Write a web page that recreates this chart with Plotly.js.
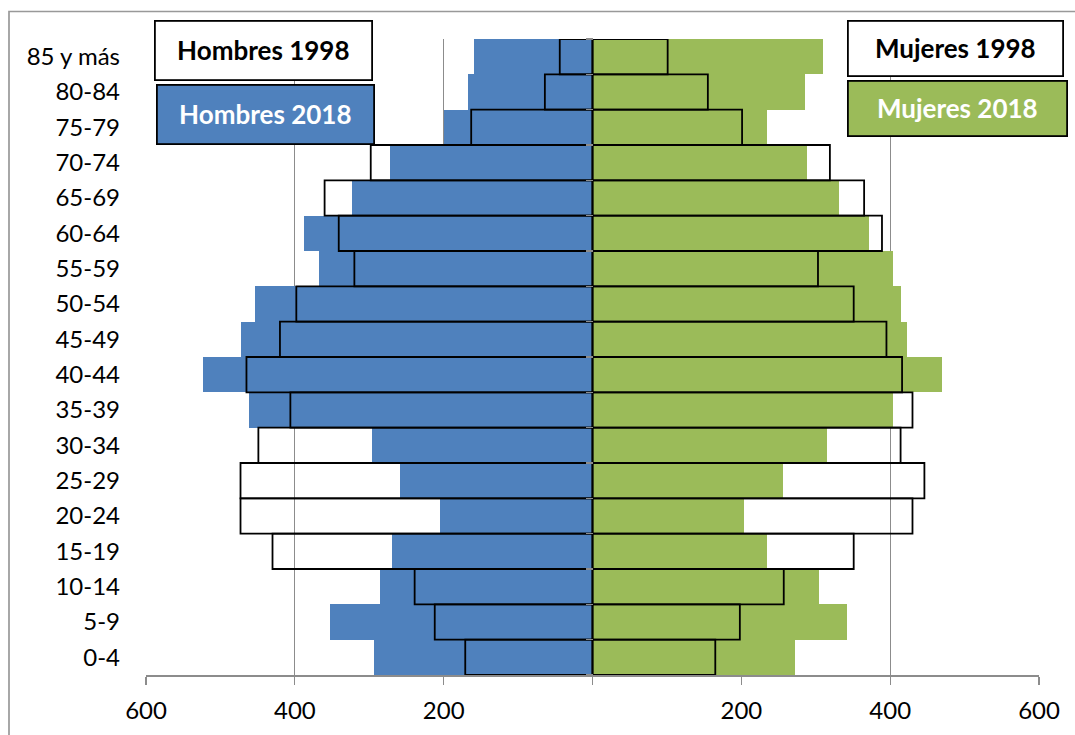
<!DOCTYPE html>
<html>
<head>
<meta charset="utf-8">
<script src="https://cdn.plot.ly/plotly-3.0.1.min.js"></script>
<style>
html,body{margin:0;padding:0;background:#fff;}
#chart{width:1075px;height:735px;}
</style>
</head>
<body>
<div id="chart"></div>
<script>
const categories = ['0-4','5-9','10-14','15-19','20-24','25-29','30-34','35-39','40-44','45-49','50-54','55-59','60-64','65-69','70-74','75-79','80-84','85 y más'];
const hombres2018 = [294,353,286,270,205,259,296,461,523,472,453,367,388,323,272,200,167,159];
const hombres1998 = [171,212,239,430,473,473,449,406,465,420,398,320,341,360,298,163,64,44];
const mujeres2018 = [272,342,304,234,204,256,315,404,469,423,415,404,372,331,288,234,285,310];
const mujeres1998 = [165,198,257,351,430,446,414,430,416,395,351,303,389,365,319,201,155,101];
const tickVals = [-600,-400,-200,0,200,400,600];
const tickText = ['600','400','200','','200','400','600'];

const BLUE = '#4F81BD', GREEN = '#9BBB59', GRID = '#8c8c8c';
const FONT = 'Lato, "Open Sans", sans-serif';

const L = 146, R = 36, T = 39, B = 60, W = 1075, H = 735;
const PW = W - L - R, PH = H - T - B;
const px = x => (x - L) / PW;
const py = y => (H - B - y) / PH;

const traces = [
  {type:'bar', orientation:'h', name:'Hombres 2018', y:categories, x:hombres2018.map(v=>-v),
   marker:{color:BLUE, line:{width:0}}, xaxis:'x', yaxis:'y'},
  {type:'bar', orientation:'h', name:'Mujeres 2018', y:categories, x:mujeres2018,
   marker:{color:GREEN, line:{width:0}}, xaxis:'x', yaxis:'y'},
  {type:'bar', orientation:'h', name:'Hombres 1998', y:categories, x:hombres1998.map(v=>-v),
   marker:{color:'rgba(0,0,0,0)', line:{color:'#000', width:1.8}}, xaxis:'x', yaxis:'y2'},
  {type:'bar', orientation:'h', name:'Mujeres 1998', y:categories, x:mujeres1998,
   marker:{color:'rgba(0,0,0,0)', line:{color:'#000', width:1.8}}, xaxis:'x', yaxis:'y2'}
];

function box(text, cx, cy, w, h, bg, color){
  return {xref:'paper', yref:'paper', x:px(cx), y:py(cy), xanchor:'center', yanchor:'middle',
    text:'<b>'+text+'</b>', showarrow:false, width:w, height:h, bgcolor:bg,
    bordercolor:'#000', borderwidth:1.8, borderpad:0,
    font:{family:FONT, size:26, color:color}, align:'center', valign:'middle'};
}

const layout = {
  width:W, height:H, showlegend:false,
  paper_bgcolor:'#fff', plot_bgcolor:'#fff',
  margin:{l:L, r:R, t:T, b:B, pad:0},
  barmode:'overlay', bargap:0,
  font:{family:FONT, color:'#000'},
  xaxis:{range:[-600,600], tickmode:'array', tickvals:tickVals, ticktext:tickText,
    showgrid:true, gridcolor:GRID, gridwidth:1.2, zeroline:false,
    showline:true, linecolor:GRID, linewidth:1.6,
    ticks:'outside', ticklen:8, tickcolor:GRID, tickwidth:1.2,
    tickfont:{family:FONT, size:24, color:'#000'}, ticklabelstandoff:6, fixedrange:true},
  yaxis:{type:'category', categoryorder:'array', categoryarray:categories, range:[-0.5,17.5],
    showgrid:false, showline:false, zeroline:false, ticks:'',
    tickfont:{family:FONT, size:24, color:'#000'}, ticklabelstandoff:25},
  yaxis2:{type:'category', categoryorder:'array', categoryarray:categories, range:[-0.5,17.5],
    overlaying:'y', anchor:'free', position:0.5, side:'left',
    showgrid:false, showline:false, zeroline:false, showticklabels:false,
    ticks:'outside', tickson:'boundaries', ticklen:7, tickcolor:GRID, tickwidth:1.2},
  annotations:[
    box('Hombres 1998', 263, 50, 215, 57, '#fff', '#000'),
    box('Hombres 2018', 265, 114, 215, 57, BLUE, '#fff'),
    box('Mujeres 1998', 955, 48, 213, 53, '#fff', '#000'),
    box('Mujeres 2018', 957, 108, 217, 53, GREEN, '#fff')
  ],
  shapes:[
    {type:'rect', xref:'paper', yref:'paper', x0:px(9), x1:px(1090), y0:py(11.5), y1:py(760),
     line:{color:'#999', width:1.7}, fillcolor:'rgba(0,0,0,0)', layer:'below'}
  ]
};

Plotly.newPlot('chart', traces, layout, {staticPlot:true, displayModeBar:false});
</script>
</body>
</html>
